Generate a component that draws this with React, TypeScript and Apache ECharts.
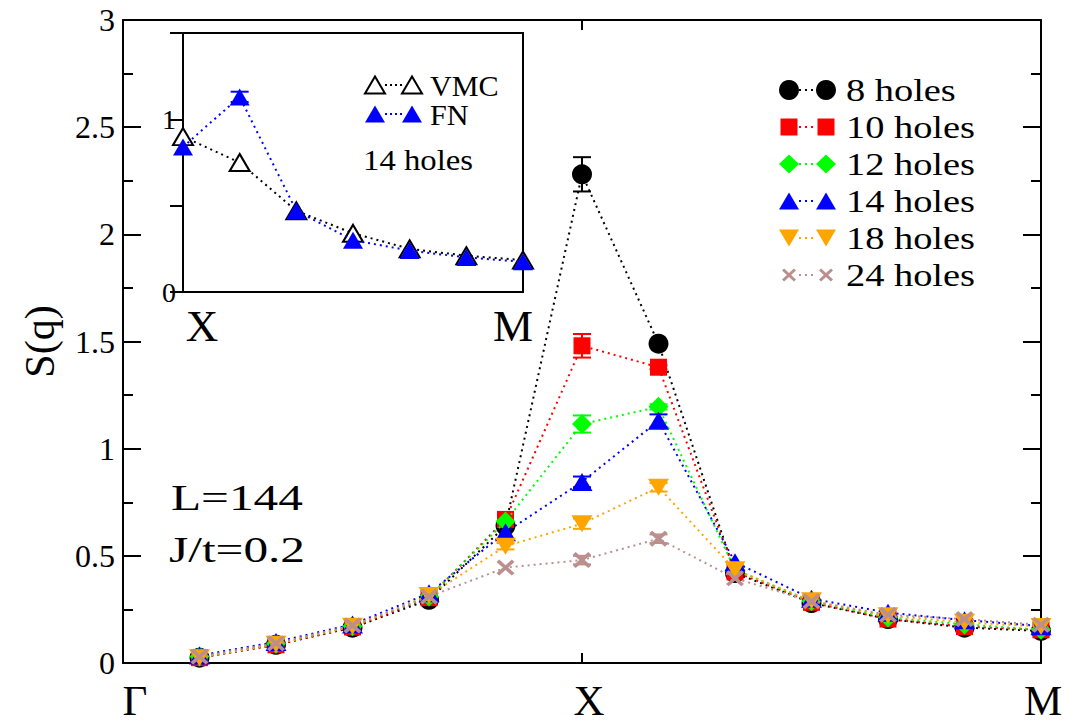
import React, { useEffect, useRef } from 'react';
import * as echarts from 'echarts';

// ---- data ----
const qIndex = [1, 2, 3, 4, 5, 6, 7, 8, 9, 10, 11, 12];
const xTickPositions = [0, 6, 12];
const xTickLabels = ['Γ', 'X', 'M'];

const holes8 = [0.025, 0.085, 0.165, 0.295, 0.64, 2.28, 1.49, 0.42, 0.28, 0.205, 0.165, 0.15];
const holes10 = [0.025, 0.085, 0.168, 0.305, 0.67, 1.48, 1.38, 0.425, 0.283, 0.205, 0.17, 0.155];
const holes12 = [0.03, 0.09, 0.172, 0.31, 0.66, 1.115, 1.195, 0.435, 0.288, 0.212, 0.18, 0.155];
const holes14 = [0.035, 0.098, 0.18, 0.325, 0.61, 0.845, 1.13, 0.47, 0.3, 0.235, 0.2, 0.172];
const holes18 = [0.025, 0.088, 0.172, 0.315, 0.545, 0.65, 0.82, 0.435, 0.29, 0.22, 0.19, 0.17];
const holes24 = [0.03, 0.092, 0.175, 0.31, 0.445, 0.48, 0.58, 0.395, 0.288, 0.225, 0.205, 0.178];

const err8 = [0, 0, 0, 0, 0, 0.08, 0, 0, 0, 0, 0, 0];
const err10 = [0, 0, 0, 0, 0, 0.055, 0.01, 0, 0, 0, 0, 0];
const err12 = [0, 0, 0, 0, 0, 0.04, 0.012, 0, 0, 0, 0, 0];
const err14 = [0, 0, 0, 0, 0, 0.025, 0.03, 0, 0, 0, 0, 0];
const err18 = [0, 0, 0, 0, 0.015, 0.024, 0.02, 0, 0, 0, 0, 0];
const err24 = [0, 0, 0, 0, 0, 0.02, 0.02, 0, 0, 0, 0, 0];

const legendNames = ['8 holes', '10 holes', '12 holes', '14 holes', '18 holes', '24 holes'];

const insetIndex = [0, 1, 2, 3, 4, 5, 6];
const insetTickLabels = ['X', 'M'];
const insetVMC = [0.9, 0.75, 0.47, 0.34, 0.25, 0.21, 0.185];
const insetFN = [0.84, 1.13, 0.47, 0.3, 0.24, 0.2, 0.175];
const insetFNErr = [0, 0.03, 0, 0, 0, 0, 0];

const FONT = 'Liberation Serif';
const CROSS = 'path://M0,1.5L1.5,0L5,3.5L8.5,0L10,1.5L6.5,5L10,8.5L8.5,10L5,6.5L1.5,10L0,8.5L3.5,5Z';

type SetDef = {
  name: string; vals: number[]; err: number[]; color: string;
  kind: string; size: number[]; legendSize: number[];
};

const sets: SetDef[] = [
  { name: legendNames[0], vals: holes8, err: err8, color: '#000000', kind: 'circle', size: [20, 20], legendSize: [20, 20] },
  { name: legendNames[1], vals: holes10, err: err10, color: '#ff0000', kind: 'rect', size: [17, 17], legendSize: [17, 17] },
  { name: legendNames[2], vals: holes12, err: err12, color: '#00ff00', kind: 'diamond', size: [20, 20], legendSize: [20, 19] },
  { name: legendNames[3], vals: holes14, err: err14, color: '#0000ff', kind: 'triangle', size: [21, 18], legendSize: [20, 17] },
  { name: legendNames[4], vals: holes18, err: err18, color: '#ffa500', kind: 'invtriangle', size: [21, 17], legendSize: [20, 17] },
  { name: legendNames[5], vals: holes24, err: err24, color: '#bc8f8f', kind: 'cross', size: [18, 16], legendSize: [14, 13] },
];

function symbolOf(kind: string) {
  if (kind === 'invtriangle') return 'triangle';
  if (kind === 'cross') return CROSS;
  return kind;
}

function legendSymbol(kind: string, cx: number, cy: number, w: number, h: number, color: string, open = false): any {
  const style: any = open
    ? { fill: '#ffffff', stroke: color, lineWidth: 2 }
    : { fill: color };
  if (kind === 'circle') return { type: 'circle', shape: { cx, cy, r: w / 2 }, style };
  if (kind === 'rect') return { type: 'rect', shape: { x: cx - w / 2, y: cy - h / 2, width: w, height: h }, style };
  let pts: number[][] = [];
  if (kind === 'diamond') pts = [[cx, cy - h / 2], [cx + w / 2, cy], [cx, cy + h / 2], [cx - w / 2, cy]];
  if (kind === 'triangle') pts = [[cx - w / 2, cy + h / 2], [cx + w / 2, cy + h / 2], [cx, cy - h / 2]];
  if (kind === 'invtriangle') pts = [[cx - w / 2, cy - h / 2], [cx + w / 2, cy - h / 2], [cx, cy + h / 2]];
  if (kind === 'cross') {
    const s = w / 10;
    const raw = [[0, 1.5], [1.5, 0], [5, 3.5], [8.5, 0], [10, 1.5], [6.5, 5], [10, 8.5], [8.5, 10], [5, 6.5], [1.5, 10], [0, 8.5], [3.5, 5]];
    pts = raw.map(([a, b]) => [cx - w / 2 + a * s, cy - h / 2 + b * (h / 10)]);
  }
  return { type: 'polygon', shape: { points: pts }, style };
}

function errorSeries(xs: number[], ys: number[], es: number[], color: string, xi: number, yi: number, capHalf: number, z: number): any {
  const data = xs.map((x, i) => [x, ys[i], es[i]]).filter((d) => d[2] > 0);
  return {
    type: 'custom',
    xAxisIndex: xi,
    yAxisIndex: yi,
    z,
    silent: true,
    encode: { x: 0, y: 1 },
    data,
    renderItem: (params: any, api: any) => {
      const x = api.value(0);
      const y = api.value(1);
      const e = api.value(2);
      const top = api.coord([x, y + e]);
      const bot = api.coord([x, y - e]);
      const st = { stroke: color, lineWidth: 2 };
      return {
        type: 'group',
        children: [
          { type: 'line', shape: { x1: top[0], y1: top[1], x2: bot[0], y2: bot[1] }, style: st },
          { type: 'line', shape: { x1: top[0] - capHalf, y1: top[1], x2: top[0] + capHalf, y2: top[1] }, style: st },
          { type: 'line', shape: { x1: bot[0] - capHalf, y1: bot[1], x2: bot[0] + capHalf, y2: bot[1] }, style: st },
        ],
      };
    },
  };
}

function buildOption(): any {
  const series: any[] = [];
  sets.forEach((s, k) => {
    series.push(errorSeries(qIndex, s.vals, s.err, s.color, 0, 0, 9, 2 + k));
    series.push({
      type: 'line',
      name: s.name,
      xAxisIndex: 0,
      yAxisIndex: 0,
      z: 2 + k,
      data: qIndex.map((x, i) => [x, s.vals[i]]),
      symbol: symbolOf(s.kind),
      symbolSize: s.size,
      symbolRotate: s.kind === 'invtriangle' ? 180 : 0,
      showAllSymbol: true,
      itemStyle: { color: s.color },
      lineStyle: { color: s.color, width: 2, type: [2, 4] },
      emphasis: { disabled: true },
    });
  });

  // inset
  series.push({
    type: 'line',
    name: 'VMC',
    xAxisIndex: 2,
    yAxisIndex: 2,
    z: 10,
    data: insetIndex.map((x, i) => [x, insetVMC[i]]),
    symbol: 'triangle',
    symbolSize: [20, 17],
    showAllSymbol: true,
    itemStyle: { color: '#ffffff', borderColor: '#000000', borderWidth: 2 },
    lineStyle: { color: '#000000', width: 2, type: [2, 4] },
    emphasis: { disabled: true },
  });
  series.push(errorSeries(insetIndex, insetFN, insetFNErr, '#0000ff', 2, 2, 9, 11));
  series.push({
    type: 'line',
    name: 'FN',
    xAxisIndex: 2,
    yAxisIndex: 2,
    z: 11,
    data: insetIndex.map((x, i) => [x, insetFN[i]]),
    symbol: 'triangle',
    symbolSize: [20, 17],
    showAllSymbol: true,
    itemStyle: { color: '#0000ff' },
    lineStyle: { color: '#0000ff', width: 2, type: [2, 4] },
    emphasis: { disabled: true },
  });

  // graphic legend & annotations
  const graphics: any[] = [];
  const rowY0 = 90;
  const rowStep = 37;
  sets.forEach((s, k) => {
    const y = rowY0 + k * rowStep;
    graphics.push({
      type: 'line', shape: { x1: 799, y1: y, x2: 816, y2: y },
      style: { stroke: s.color, lineWidth: 2, lineDash: [2, 4] }, z: 100,
    });
    const a = legendSymbol(s.kind, 789, y, s.legendSize[0], s.legendSize[1], s.color);
    const b = legendSymbol(s.kind, 826, y, s.legendSize[0], s.legendSize[1], s.color);
    a.z = 101; b.z = 101;
    graphics.push(a, b);
    graphics.push({
      type: 'text', x: 846, y: y + 1, scaleX: 1.2, z: 101,
      style: { text: s.name, fontSize: 32, fontFamily: FONT, fill: '#000', align: 'left', verticalAlign: 'middle' },
    });
  });
  graphics.push({
    type: 'text', x: 171, y: 498, scaleX: 1.37, z: 101,
    style: { text: 'L=144', fontSize: 36, fontFamily: FONT, fill: '#000', align: 'left', verticalAlign: 'middle' },
  });
  graphics.push({
    type: 'text', x: 169, y: 550, scaleX: 1.37, z: 101,
    style: { text: 'J/t=0.2', fontSize: 36, fontFamily: FONT, fill: '#000', align: 'left', verticalAlign: 'middle' },
  });
  // inset legend
  const insetRows = [
    { name: 'VMC', y: 85, color: '#000000', open: true },
    { name: 'FN', y: 114, color: '#0000ff', open: false },
  ];
  insetRows.forEach((r) => {
    graphics.push({
      type: 'line', shape: { x1: 385, y1: r.y, x2: 402, y2: r.y },
      style: { stroke: r.color, lineWidth: 2, lineDash: [2, 3] }, z: 100,
    });
    const a = legendSymbol('triangle', 375, r.y, 20, 17, r.color, r.open);
    const b = legendSymbol('triangle', 412, r.y, 20, 17, r.color, r.open);
    a.z = 101; b.z = 101;
    graphics.push(a, b);
    graphics.push({
      type: 'text', x: 430, y: r.y + 1, scaleX: 1.04, z: 101,
      style: { text: r.name, fontSize: 29, fontFamily: FONT, fill: '#000', align: 'left', verticalAlign: 'middle' },
    });
  });
  graphics.push({
    type: 'text', x: 363, y: 160, scaleX: 1.13, z: 101,
    style: { text: '14 holes', fontSize: 29, fontFamily: FONT, fill: '#000', align: 'left', verticalAlign: 'middle' },
  });

  const lineSt = { color: '#000', width: 2 };
  const richBase = { fontSize: 43, fontFamily: FONT, color: '#000', lineHeight: 38 };

  return {
    animation: false,
    backgroundColor: '#ffffff',
    textStyle: { fontFamily: FONT },
    grid: [
      { left: 123, right: 27, top: 20, bottom: 62, show: false },
      { left: 183, top: 33, width: 340, height: 259, show: true, backgroundColor: '#ffffff', borderColor: '#000', borderWidth: 2, z: 5 },
    ],
    xAxis: [
      {
        gridIndex: 0, type: 'value', min: 0, max: 12, interval: 6, position: 'bottom',
        axisLine: { show: true, onZero: false, lineStyle: lineSt },
        axisTick: { show: true, inside: true, length: 10, lineStyle: lineSt },
        splitLine: { show: false },
        axisLabel: {
          margin: 18, fontSize: 43, fontFamily: FONT, color: '#000', lineHeight: 38,
          showMinLabel: true, showMaxLabel: true,
          formatter: (v: number) => {
            const i = xTickPositions.indexOf(v);
            return i < 0 ? '' : `{t${i}|${xTickLabels[i]}}`;
          },
          rich: {
            t0: { ...richBase, padding: [0, 0, 0, 24] },
            t1: { ...richBase, padding: [0, 0, 0, 14] },
            t2: { ...richBase, padding: [0, 0, 0, 4] },
          },
        },
      },
      {
        gridIndex: 0, type: 'value', min: 0, max: 12, interval: 6, position: 'top',
        axisLine: { show: true, onZero: false, lineStyle: lineSt },
        axisTick: { show: true, inside: true, length: 10, lineStyle: lineSt },
        splitLine: { show: false }, axisLabel: { show: false },
      },
      {
        gridIndex: 1, type: 'value', min: 0, max: 6, interval: 6, position: 'bottom',
        axisLine: { show: false }, axisTick: { show: false }, splitLine: { show: false },
        axisLabel: {
          margin: 11, fontSize: 45, fontFamily: FONT, color: '#000',
          showMinLabel: true, showMaxLabel: true,
          formatter: (v: number) => (v === 0 ? `{a|${insetTickLabels[0]}}` : v === 6 ? `{b|${insetTickLabels[1]}}` : ''),
          rich: {
            a: { fontSize: 45, fontFamily: FONT, color: '#000', padding: [0, 0, 0, 38] },
            b: { fontSize: 45, fontFamily: FONT, color: '#000', padding: [0, 20, 0, 0] },
          },
        },
      },
      {
        gridIndex: 1, type: 'value', min: 0, max: 6, interval: 6, position: 'top',
        axisLine: { show: false }, axisTick: { show: false }, splitLine: { show: false }, axisLabel: { show: false },
      },
    ],
    yAxis: [
      {
        gridIndex: 0, type: 'value', min: 0, max: 3, interval: 0.5, position: 'left',
        name: 'S(q)', nameLocation: 'middle', nameGap: 62, nameRotate: 90,
        nameTextStyle: { fontSize: 42, fontFamily: FONT, color: '#000' },
        axisLine: { show: true, onZero: false, lineStyle: lineSt },
        axisTick: { show: true, inside: true, length: 18, lineStyle: lineSt },
        minorTick: { show: true, splitNumber: 2, length: 10, lineStyle: lineSt },
        splitLine: { show: false }, minorSplitLine: { show: false },
        axisLabel: { margin: 8, fontSize: 32, fontFamily: FONT, color: '#000', showMinLabel: true, showMaxLabel: true },
      },
      {
        gridIndex: 0, type: 'value', min: 0, max: 3, interval: 0.5, position: 'right',
        axisLine: { show: true, onZero: false, lineStyle: lineSt },
        axisTick: { show: true, inside: true, length: 18, lineStyle: lineSt },
        minorTick: { show: true, splitNumber: 2, length: 10, lineStyle: lineSt },
        splitLine: { show: false }, minorSplitLine: { show: false },
        axisLabel: { show: false },
      },
      {
        gridIndex: 1, type: 'value', min: 0, max: 1.5, interval: 0.5, position: 'left',
        axisLine: { show: false },
        axisTick: { show: true, inside: true, length: 17, lineStyle: lineSt },
        splitLine: { show: false },
        axisLabel: {
          margin: 7, fontSize: 28, fontFamily: FONT, color: '#000', showMinLabel: true,
          formatter: (v: number) => (v === 0 || v === 1 ? String(v) : ''),
        },
      },
      {
        gridIndex: 1, type: 'value', min: 0, max: 1.5, interval: 0.5, position: 'right',
        axisLine: { show: false },
        axisTick: { show: true, inside: true, length: 13, lineStyle: lineSt },
        splitLine: { show: false }, axisLabel: { show: false },
      },
    ],
    series,
    graphic: { elements: graphics },
  };
}

export default function App() {
  const ref = useRef<HTMLDivElement>(null);
  useEffect(() => {
    if (!ref.current) return;
    const chart = echarts.init(ref.current, undefined, { renderer: 'svg' });
    chart.setOption(buildOption());
    return () => chart.dispose();
  }, []);
  return (
    <div
      ref={ref}
      style={{ position: 'absolute', left: 0, top: 0, width: 1068, height: 725, background: '#fff' }}
    />
  );
}
